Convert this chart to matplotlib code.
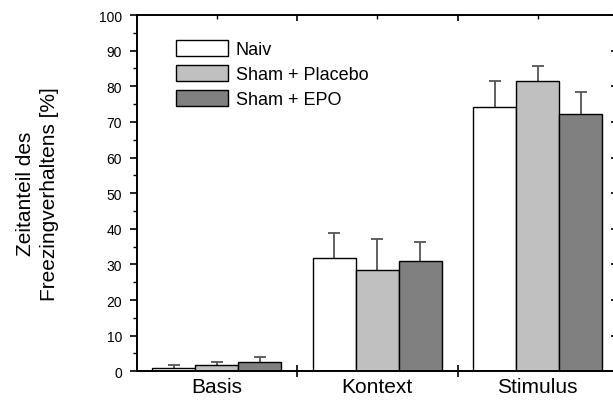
import matplotlib
matplotlib.use("Agg")
import matplotlib.pyplot as plt
from matplotlib import lines as mlines
import numpy as np

plt.rcParams['font.family'] = ['Liberation Sans', 'DejaVu Sans']

# Freezing-Anteil je Phase und Gruppe (Mittelwert und Fehler nach oben)
phasen = ["Basis", "Kontext", "Stimulus"]
gruppen = ["Naiv", "Sham + Placebo", "Sham + EPO"]
farben = ["#ffffff", "#c0c0c0", "#808080"]

naiv = [0.9, 31.7, 74.3]
naiv_err = [0.9, 7.2, 7.3]
placebo = [1.8, 28.5, 81.5]
placebo_err = [0.9, 8.7, 4.3]
epo = [2.5, 30.9, 72.3]
epo_err = [1.5, 5.3, 6.2]

werte = [naiv, placebo, epo]
fehler = [naiv_err, placebo_err, epo_err]

fig = plt.figure(figsize=(6.13, 4.02), dpi=100)
ax = fig.add_axes([136.5 / 613, 1 - 372.3 / 402, (618 - 136.5) / 613, (372.3 - 16) / 402])

x = np.arange(len(phasen))
breite = 0.268
for i in range(3):
    pos = x + (i - 1) * breite
    mw = np.array(werte[i])
    oben = mw + np.array(fehler[i])
    ax.bar(pos, mw, width=breite, color=farben[i], edgecolor="black",
           linewidth=1.0, label=gruppen[i], zorder=2)
    # nur der obere Fehlerbalken mit Kappe
    ax.vlines(pos, mw, oben, color="#555555", linewidth=1.3, zorder=1)
    ax.plot(pos, oben, linestyle="none", marker="_", markersize=8,
            markeredgewidth=1.3, color="#555555", zorder=1)

ax.set_xlim(-0.5, 2.5)
ax.set_ylim(0, 100)

ax.set_yticks(np.arange(0, 101, 10))
ax.set_yticks(np.arange(5, 100, 10), minor=True)
ax.tick_params(axis="y", which="major", direction="out", length=5, width=1.2,
               labelsize=10, pad=5.5, right=True)
ax.tick_params(axis="y", which="minor", direction="out", length=3, width=1.0, right=True)

ax.set_xticks([0.5, 1.5])
ax.set_xticklabels([])
ax.set_xticks(x, minor=True)
ax.set_xticklabels(phasen, minor=True)
ax.tick_params(axis="x", which="major", direction="inout", length=8, width=1.2, top=True)
ax.tick_params(axis="x", which="minor", direction="in", length=3, width=1.0,
               labelsize=15, pad=4, top=True)

for s in ax.spines.values():
    s.set_linewidth(1.4)
ax.spines["right"].set_visible(False)

# rechte Achse: Ticks nach innen, oben ebenfalls nach innen
for t in ax.yaxis.get_major_ticks():
    t.tick2line.set_marker(mlines.TICKLEFT)
    t.tick2line.set_markersize(5)
for t in ax.yaxis.get_minor_ticks():
    t.tick2line.set_visible(False)
for t in ax.xaxis.get_major_ticks():
    t.tick2line.set_marker(mlines.TICKDOWN)
    t.tick2line.set_markersize(4)

fig.text(37.5 / 613, 1 - 194 / 402, "Zeitanteil des\nFreezingverhaltens [%]",
         rotation=90, ha="center", va="center", fontsize=15, linespacing=1.3)

ax.legend(loc="upper left", bbox_to_anchor=((176 - 136.5) / 481.5, (372.3 - 41) / 356.3),
          frameon=False, fontsize=13, handlelength=2.9, handleheight=0.95,
          labelspacing=0.4, handletextpad=0.4, borderpad=0, borderaxespad=0)

fig.savefig("out.png", dpi=100)
